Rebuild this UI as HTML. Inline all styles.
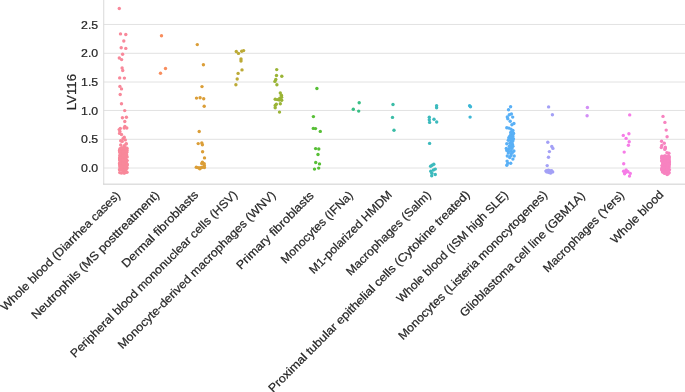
<!DOCTYPE html>
<html><head><meta charset="utf-8"><title>LV116</title>
<style>html,body{margin:0;padding:0;background:#fff}body{width:685px;height:392px;overflow:hidden;font-family:"Liberation Sans",sans-serif}</style></head>
<body>
<svg width="685" height="392" viewBox="0 0 685 392" style="display:block">
<rect width="685" height="392" fill="#fff"/>
<g stroke="#e2e2e2" stroke-width="1" fill="none">
<line x1="103.75" x2="685" y1="168.00" y2="168.00"/>
<line x1="103.75" x2="685" y1="139.30" y2="139.30"/>
<line x1="103.75" x2="685" y1="110.45" y2="110.45"/>
<line x1="103.75" x2="685" y1="82.00" y2="82.00"/>
<line x1="103.75" x2="685" y1="53.30" y2="53.30"/>
<line x1="103.75" x2="685" y1="24.45" y2="24.45"/>
</g>
<line x1="103.75" x2="103.75" y1="0" y2="184.65" stroke="#d9d9d9" stroke-width="1"/><line x1="103.25" x2="685" y1="184.15" y2="184.15" stroke="#cecece" stroke-width="1"/>
<g fill="#f8889a">
<circle cx="119.3" cy="8.5" r="1.7"/><circle cx="120.5" cy="33.9" r="1.7"/><circle cx="125.8" cy="34.5" r="1.7"/><circle cx="123.8" cy="41.0" r="1.7"/><circle cx="121.2" cy="47.8" r="1.7"/><circle cx="125.8" cy="48.4" r="1.7"/><circle cx="122.6" cy="54.2" r="1.7"/><circle cx="119.3" cy="58.0" r="1.7"/><circle cx="121.6" cy="59.6" r="1.7"/><circle cx="122.1" cy="67.9" r="1.7"/><circle cx="122.7" cy="70.5" r="1.7"/><circle cx="119.7" cy="77.9" r="1.7"/><circle cx="124.4" cy="78.1" r="1.7"/><circle cx="119.9" cy="86.4" r="1.7"/><circle cx="121.5" cy="88.9" r="1.7"/><circle cx="120.2" cy="94.5" r="1.7"/><circle cx="121.5" cy="103.8" r="1.7"/><circle cx="124.7" cy="110.6" r="1.7"/><circle cx="122.4" cy="117.8" r="1.7"/><circle cx="126.4" cy="117.3" r="1.7"/><circle cx="124.8" cy="121.5" r="1.7"/><circle cx="124.9" cy="126.5" r="1.7"/><circle cx="124.2" cy="128.0" r="1.7"/><circle cx="126.8" cy="128.0" r="1.7"/><circle cx="120.3" cy="128.4" r="1.7"/><circle cx="119.2" cy="129.6" r="1.7"/><circle cx="119.9" cy="131.5" r="1.7"/><circle cx="119.6" cy="133.4" r="1.7"/><circle cx="121.5" cy="134.5" r="1.7"/><circle cx="124.2" cy="137.2" r="1.7"/><circle cx="123" cy="138.7" r="1.7"/><circle cx="125.3" cy="139.9" r="1.7"/><circle cx="120.7" cy="140.7" r="1.7"/><circle cx="122.2" cy="141.4" r="1.7"/><circle cx="126.1" cy="144.1" r="1.7"/><circle cx="120.7" cy="144.9" r="1.7"/><circle cx="124.2" cy="145.6" r="1.7"/><circle cx="126.3" cy="143.6" r="1.7"/><circle cx="122.0" cy="151.0" r="1.7"/><circle cx="124.5" cy="148.9" r="1.7"/><circle cx="123.6" cy="156.6" r="1.7"/><circle cx="120.0" cy="160.3" r="1.7"/><circle cx="119.8" cy="158.4" r="1.7"/><circle cx="120.1" cy="149.4" r="1.7"/><circle cx="122.8" cy="168.7" r="1.7"/><circle cx="120.5" cy="152.8" r="1.7"/><circle cx="124.3" cy="171.8" r="1.7"/><circle cx="123.9" cy="157.4" r="1.7"/><circle cx="127.0" cy="148.2" r="1.7"/><circle cx="126.1" cy="154.6" r="1.7"/><circle cx="120.6" cy="150.1" r="1.7"/><circle cx="121.9" cy="168.4" r="1.7"/><circle cx="120.9" cy="162.2" r="1.7"/><circle cx="124.4" cy="156.8" r="1.7"/><circle cx="123.7" cy="148.6" r="1.7"/><circle cx="120.0" cy="152.4" r="1.7"/><circle cx="124.7" cy="158.2" r="1.7"/><circle cx="121.9" cy="162.3" r="1.7"/><circle cx="123.0" cy="154.9" r="1.7"/><circle cx="125.6" cy="165.3" r="1.7"/><circle cx="121.4" cy="162.0" r="1.7"/><circle cx="123.5" cy="169.9" r="1.7"/><circle cx="125.1" cy="154.5" r="1.7"/><circle cx="127.0" cy="150.1" r="1.7"/><circle cx="122.7" cy="166.8" r="1.7"/><circle cx="120.7" cy="159.8" r="1.7"/><circle cx="119.8" cy="164.5" r="1.7"/><circle cx="125.4" cy="162.0" r="1.7"/><circle cx="126.2" cy="155.2" r="1.7"/><circle cx="124.8" cy="162.6" r="1.7"/><circle cx="124.0" cy="159.0" r="1.7"/><circle cx="125.9" cy="171.8" r="1.7"/><circle cx="123.2" cy="164.4" r="1.7"/><circle cx="120.0" cy="165.4" r="1.7"/><circle cx="124.5" cy="173.0" r="1.7"/><circle cx="125.8" cy="154.5" r="1.7"/><circle cx="122.5" cy="164.5" r="1.7"/><circle cx="119.7" cy="159.1" r="1.7"/><circle cx="120.8" cy="150.1" r="1.7"/><circle cx="120.0" cy="167.1" r="1.7"/><circle cx="120.5" cy="153.5" r="1.7"/><circle cx="122.5" cy="169.8" r="1.7"/><circle cx="120.2" cy="158.8" r="1.7"/><circle cx="123.7" cy="170.1" r="1.7"/><circle cx="125.8" cy="169.6" r="1.7"/><circle cx="121.7" cy="157.9" r="1.7"/><circle cx="122.3" cy="170.2" r="1.7"/><circle cx="126.8" cy="151.0" r="1.7"/><circle cx="120.9" cy="153.1" r="1.7"/><circle cx="121.3" cy="159.7" r="1.7"/><circle cx="124.0" cy="153.9" r="1.7"/><circle cx="119.6" cy="158.0" r="1.7"/><circle cx="122.4" cy="161.8" r="1.7"/><circle cx="126.8" cy="165.1" r="1.7"/><circle cx="123.5" cy="163.2" r="1.7"/><circle cx="124.7" cy="148.4" r="1.7"/><circle cx="126.4" cy="167.4" r="1.7"/><circle cx="126.2" cy="167.9" r="1.7"/><circle cx="122.5" cy="157.5" r="1.7"/><circle cx="120.3" cy="163.6" r="1.7"/><circle cx="120.0" cy="148.8" r="1.7"/><circle cx="121.1" cy="151.3" r="1.7"/><circle cx="122.1" cy="148.4" r="1.7"/><circle cx="119.6" cy="151.0" r="1.7"/><circle cx="120.3" cy="156.5" r="1.7"/><circle cx="119.7" cy="169.9" r="1.7"/><circle cx="124.2" cy="150.9" r="1.7"/><circle cx="121.5" cy="156.1" r="1.7"/><circle cx="119.7" cy="172.6" r="1.7"/><circle cx="121.3" cy="173.0" r="1.7"/><circle cx="123.6" cy="172.9" r="1.7"/><circle cx="125.3" cy="172.4" r="1.7"/><circle cx="127.0" cy="172.2" r="1.7"/><circle cx="119.6" cy="169.5" r="1.7"/><circle cx="120.1" cy="166.8" r="1.7"/><circle cx="127.1" cy="168.0" r="1.7"/><circle cx="119.6" cy="163.5" r="1.7"/><circle cx="127.0" cy="163.9" r="1.7"/><circle cx="119.6" cy="150.5" r="1.7"/><circle cx="119.8" cy="155.5" r="1.7"/><circle cx="126.0" cy="156.6" r="1.7"/><circle cx="127.1" cy="160.6" r="1.7"/><circle cx="120.2" cy="152.3" r="1.7"/><circle cx="120.3" cy="159.8" r="1.7"/><circle cx="125.8" cy="156.1" r="1.7"/><circle cx="120.8" cy="162.1" r="1.7"/><circle cx="123.6" cy="160.5" r="1.7"/><circle cx="119.8" cy="162.7" r="1.7"/><circle cx="123.6" cy="164.0" r="1.7"/><circle cx="124.8" cy="169.4" r="1.7"/><circle cx="121.5" cy="157.0" r="1.7"/><circle cx="125.4" cy="156.3" r="1.7"/><circle cx="123.6" cy="161.0" r="1.7"/><circle cx="121.2" cy="159.4" r="1.7"/><circle cx="125.7" cy="153.7" r="1.7"/><circle cx="125.7" cy="169.2" r="1.7"/><circle cx="125.8" cy="157.5" r="1.7"/><circle cx="123.5" cy="158.2" r="1.7"/><circle cx="122.3" cy="154.6" r="1.7"/><circle cx="121.7" cy="159.8" r="1.7"/><circle cx="121.5" cy="158.7" r="1.7"/><circle cx="122.9" cy="153.6" r="1.7"/><circle cx="126.8" cy="152.2" r="1.7"/><circle cx="121.3" cy="155.9" r="1.7"/><circle cx="121.0" cy="161.4" r="1.7"/><circle cx="126.4" cy="160.7" r="1.7"/><circle cx="125.9" cy="165.9" r="1.7"/><circle cx="125.6" cy="150.6" r="1.7"/><circle cx="120.2" cy="159.5" r="1.7"/><circle cx="125.5" cy="152.1" r="1.7"/><circle cx="125.3" cy="148.3" r="1.7"/><circle cx="125.5" cy="155.1" r="1.7"/><circle cx="122.1" cy="159.0" r="1.7"/><circle cx="122.6" cy="163.1" r="1.7"/><circle cx="125.1" cy="147.7" r="1.7"/><circle cx="120.8" cy="166.2" r="1.7"/><circle cx="126.4" cy="160.7" r="1.7"/><circle cx="125.7" cy="160.8" r="1.7"/><circle cx="127.0" cy="164.7" r="1.7"/><circle cx="124.5" cy="166.7" r="1.7"/><circle cx="120.5" cy="154.4" r="1.7"/><circle cx="119.7" cy="164.1" r="1.7"/><circle cx="123.6" cy="166.3" r="1.7"/><circle cx="126.6" cy="157.1" r="1.7"/><circle cx="125.8" cy="148.3" r="1.7"/><circle cx="121.2" cy="163.0" r="1.7"/><circle cx="121.4" cy="158.4" r="1.7"/><circle cx="124.0" cy="163.1" r="1.7"/><circle cx="120.5" cy="158.2" r="1.7"/><circle cx="126.5" cy="164.2" r="1.7"/><circle cx="124.0" cy="154.8" r="1.7"/><circle cx="126.4" cy="163.3" r="1.7"/><circle cx="123.4" cy="147.7" r="1.7"/><circle cx="123.6" cy="164.4" r="1.7"/><circle cx="122.9" cy="157.4" r="1.7"/><circle cx="120.9" cy="158.3" r="1.7"/><circle cx="120.9" cy="168.4" r="1.7"/><circle cx="123.1" cy="158.7" r="1.7"/><circle cx="122.0" cy="157.4" r="1.7"/><circle cx="123.5" cy="151.6" r="1.7"/><circle cx="120.4" cy="149.4" r="1.7"/><circle cx="123.8" cy="155.2" r="1.7"/><circle cx="125.4" cy="158.5" r="1.7"/><circle cx="123.4" cy="162.9" r="1.7"/><circle cx="126.5" cy="149.9" r="1.7"/><circle cx="122.9" cy="155.0" r="1.7"/><circle cx="123.4" cy="153.5" r="1.7"/><circle cx="124.8" cy="154.3" r="1.7"/><circle cx="123.2" cy="152.0" r="1.7"/><circle cx="126.7" cy="160.5" r="1.7"/><circle cx="126.7" cy="155.0" r="1.7"/><circle cx="121.5" cy="147.8" r="1.7"/><circle cx="125.9" cy="153.7" r="1.7"/><circle cx="122.9" cy="160.3" r="1.7"/><circle cx="120.1" cy="160.6" r="1.7"/><circle cx="124.6" cy="158.6" r="1.7"/><circle cx="125.5" cy="160.6" r="1.7"/><circle cx="125.0" cy="161.0" r="1.7"/><circle cx="124.6" cy="156.6" r="1.7"/><circle cx="126.9" cy="165.6" r="1.7"/><circle cx="121.2" cy="167.4" r="1.7"/><circle cx="123.3" cy="163.8" r="1.7"/><circle cx="127.1" cy="156.9" r="1.7"/><circle cx="122.8" cy="160.1" r="1.7"/><circle cx="123.5" cy="155.7" r="1.7"/>
</g>
<g fill="#f88d5d">
<circle cx="161.5" cy="35.7" r="1.7"/><circle cx="165.5" cy="68.5" r="1.7"/><circle cx="160.5" cy="73.3" r="1.7"/>
</g>
<g fill="#db9e37">
<circle cx="197.3" cy="44.6" r="1.7"/><circle cx="203.4" cy="64.8" r="1.7"/><circle cx="202.0" cy="86.6" r="1.7"/><circle cx="196.5" cy="98.1" r="1.7"/><circle cx="200.1" cy="97.8" r="1.7"/><circle cx="203.7" cy="98.8" r="1.7"/><circle cx="204.2" cy="106.3" r="1.7"/><circle cx="199.2" cy="131.5" r="1.7"/><circle cx="198.2" cy="143.6" r="1.7"/><circle cx="201.8" cy="142.9" r="1.7"/><circle cx="202.4" cy="144.8" r="1.7"/><circle cx="202.6" cy="151.7" r="1.7"/><circle cx="204.5" cy="157.9" r="1.7"/><circle cx="202.4" cy="162.2" r="1.7"/><circle cx="201.7" cy="163.6" r="1.7"/><circle cx="204.2" cy="163.8" r="1.7"/><circle cx="204.4" cy="165.7" r="1.7"/><circle cx="196.3" cy="167.2" r="1.7"/><circle cx="197.9" cy="167.6" r="1.7"/><circle cx="199.4" cy="168" r="1.7"/><circle cx="200.9" cy="167.7" r="1.7"/><circle cx="202.4" cy="167.2" r="1.7"/><circle cx="204.4" cy="167.6" r="1.7"/><circle cx="199.8" cy="168.7" r="1.7"/>
</g>
<g fill="#bcaa36">
<circle cx="236.3" cy="51.5" r="1.7"/><circle cx="238.5" cy="53.4" r="1.7"/><circle cx="241.7" cy="51.2" r="1.7"/><circle cx="243.6" cy="50.6" r="1.7"/><circle cx="241.0" cy="58.9" r="1.7"/><circle cx="241.0" cy="61.0" r="1.7"/><circle cx="242.0" cy="69.9" r="1.7"/><circle cx="238.1" cy="73.4" r="1.7"/><circle cx="237.2" cy="79.0" r="1.7"/><circle cx="235.9" cy="84.8" r="1.7"/>
</g>
<g fill="#9ab436">
<circle cx="276.7" cy="69.6" r="1.7"/><circle cx="276.5" cy="75.5" r="1.7"/><circle cx="281.8" cy="76.2" r="1.7"/><circle cx="275.8" cy="79.5" r="1.7"/><circle cx="274.9" cy="81.4" r="1.7"/><circle cx="276.9" cy="84.8" r="1.7"/><circle cx="280.3" cy="93.0" r="1.7"/><circle cx="281.4" cy="95.2" r="1.7"/><circle cx="281.6" cy="97.2" r="1.7"/><circle cx="279.8" cy="98.3" r="1.7"/><circle cx="275.2" cy="99.3" r="1.7"/><circle cx="277.3" cy="99.6" r="1.7"/><circle cx="279.3" cy="100.1" r="1.7"/><circle cx="281.7" cy="100.3" r="1.7"/><circle cx="280.3" cy="103.7" r="1.7"/><circle cx="276.3" cy="104.2" r="1.7"/><circle cx="275.2" cy="105.4" r="1.7"/><circle cx="275.2" cy="107.7" r="1.7"/><circle cx="279.5" cy="112.1" r="1.7"/>
</g>
<g fill="#57bf36">
<circle cx="316.9" cy="88.5" r="1.7"/><circle cx="313.4" cy="116.6" r="1.7"/><circle cx="313.3" cy="128.4" r="1.7"/><circle cx="315.5" cy="128.6" r="1.7"/><circle cx="320.3" cy="131.4" r="1.7"/><circle cx="315.6" cy="148.6" r="1.7"/><circle cx="318.8" cy="149.0" r="1.7"/><circle cx="318.0" cy="154.5" r="1.7"/><circle cx="315.7" cy="162.5" r="1.7"/><circle cx="319.5" cy="163.9" r="1.7"/><circle cx="318.7" cy="168.1" r="1.7"/><circle cx="314.5" cy="169.1" r="1.7"/>
</g>
<g fill="#38bf85">
<circle cx="359.2" cy="102.7" r="1.7"/><circle cx="353.3" cy="109.3" r="1.7"/><circle cx="358.7" cy="111.1" r="1.7"/>
</g>
<g fill="#3abca6">
<circle cx="393.0" cy="104.5" r="1.7"/><circle cx="392.5" cy="117.4" r="1.7"/><circle cx="394.0" cy="130.3" r="1.7"/>
</g>
<g fill="#3cbabd">
<circle cx="436.6" cy="105.8" r="1.7"/><circle cx="436.6" cy="107.7" r="1.7"/><circle cx="429.3" cy="117.3" r="1.7"/><circle cx="429.3" cy="119.8" r="1.7"/><circle cx="429.6" cy="122.4" r="1.7"/><circle cx="434.0" cy="119.2" r="1.7"/><circle cx="436.7" cy="122.0" r="1.7"/><circle cx="429.6" cy="143.4" r="1.7"/><circle cx="433.8" cy="164.3" r="1.7"/><circle cx="432.1" cy="165.3" r="1.7"/><circle cx="430.6" cy="166.2" r="1.7"/><circle cx="435.3" cy="169.1" r="1.7"/><circle cx="433.4" cy="170.0" r="1.7"/><circle cx="430.8" cy="171.3" r="1.7"/><circle cx="431.9" cy="173.2" r="1.7"/><circle cx="435.3" cy="174.5" r="1.7"/><circle cx="431.7" cy="175.8" r="1.7"/>
</g>
<g fill="#3db7d6">
<circle cx="469.6" cy="105.7" r="1.7"/><circle cx="470.5" cy="106.8" r="1.7"/><circle cx="470.1" cy="117.1" r="1.7"/>
</g>
<g fill="#59b0f6">
<circle cx="510.6" cy="106.7" r="1.7"/><circle cx="508.5" cy="109.7" r="1.7"/><circle cx="511.4" cy="114.0" r="1.7"/><circle cx="509.3" cy="114.8" r="1.7"/><circle cx="507.3" cy="116.9" r="1.7"/><circle cx="512.7" cy="117.1" r="1.7"/><circle cx="507.8" cy="118.7" r="1.7"/><circle cx="510.2" cy="121.3" r="1.7"/><circle cx="513.9" cy="123.5" r="1.7"/><circle cx="511.9" cy="124.7" r="1.7"/><circle cx="506.8" cy="127.8" r="1.7"/><circle cx="508.8" cy="128.1" r="1.7"/><circle cx="510.9" cy="129.1" r="1.7"/><circle cx="512.9" cy="130.4" r="1.7"/><circle cx="510.9" cy="132.2" r="1.7"/><circle cx="513.4" cy="133.2" r="1.7"/><circle cx="511.4" cy="134.2" r="1.7"/><circle cx="509.9" cy="136.3" r="1.7"/><circle cx="512.4" cy="136.3" r="1.7"/><circle cx="512.4" cy="131" r="1.7"/><circle cx="510.9" cy="133.1" r="1.7"/><circle cx="513.4" cy="133.6" r="1.7"/><circle cx="510.4" cy="135.6" r="1.7"/><circle cx="512.9" cy="136.1" r="1.7"/><circle cx="508.8" cy="137.7" r="1.7"/><circle cx="511.4" cy="138.2" r="1.7"/><circle cx="513.4" cy="138.7" r="1.7"/><circle cx="508.3" cy="140.2" r="1.7"/><circle cx="510.9" cy="140.7" r="1.7"/><circle cx="512.9" cy="140.7" r="1.7"/><circle cx="506.8" cy="143.8" r="1.7"/><circle cx="509.9" cy="143.3" r="1.7"/><circle cx="512.4" cy="144.3" r="1.7"/><circle cx="510.9" cy="145.8" r="1.7"/><circle cx="512.9" cy="146.3" r="1.7"/><circle cx="506.3" cy="148.4" r="1.7"/><circle cx="508.8" cy="148.9" r="1.7"/><circle cx="511.9" cy="148.4" r="1.7"/><circle cx="506.8" cy="150.4" r="1.7"/><circle cx="510.9" cy="150.9" r="1.7"/><circle cx="513.9" cy="150.9" r="1.7"/><circle cx="508.3" cy="153" r="1.7"/><circle cx="511.4" cy="153.5" r="1.7"/><circle cx="507.3" cy="156" r="1.7"/><circle cx="510.9" cy="155.5" r="1.7"/><circle cx="514.2" cy="156" r="1.7"/><circle cx="512.9" cy="159.1" r="1.7"/><circle cx="507.1" cy="161.1" r="1.7"/><circle cx="507.8" cy="163.2" r="1.7"/><circle cx="510.7" cy="163.2" r="1.7"/><circle cx="506.8" cy="165.2" r="1.7"/><circle cx="509.5" cy="139" r="1.7"/><circle cx="511.8" cy="142.2" r="1.7"/><circle cx="509.3" cy="146.2" r="1.7"/><circle cx="508.5" cy="151.5" r="1.7"/><circle cx="512.6" cy="152.3" r="1.7"/><circle cx="509.7" cy="157.5" r="1.7"/><circle cx="511.8" cy="146.9" r="1.7"/><circle cx="510.2" cy="148.1" r="1.7"/>
</g>
<g fill="#a3a0f6">
<circle cx="548.6" cy="106.9" r="1.7"/><circle cx="552.4" cy="114.8" r="1.7"/><circle cx="547.8" cy="142.3" r="1.7"/><circle cx="551.8" cy="146.5" r="1.7"/><circle cx="552.9" cy="148.4" r="1.7"/><circle cx="549.4" cy="151.6" r="1.7"/><circle cx="548.5" cy="157.3" r="1.7"/><circle cx="547.2" cy="165.6" r="1.7"/><circle cx="545.9" cy="171.1" r="1.7"/><circle cx="547.8" cy="171.9" r="1.7"/><circle cx="549.7" cy="170.7" r="1.7"/><circle cx="551" cy="172.6" r="1.7"/><circle cx="552.7" cy="171.9" r="1.7"/><circle cx="549.1" cy="172.6" r="1.7"/><circle cx="546.8" cy="171.9" r="1.7"/><circle cx="548.4" cy="170.3" r="1.7"/><circle cx="551.6" cy="170.6" r="1.7"/><circle cx="550.6" cy="173.1" r="1.7"/><circle cx="546.6" cy="170.6" r="1.7"/>
</g>
<g fill="#d28ef6">
<circle cx="587.4" cy="107.5" r="1.7"/><circle cx="587.1" cy="115.7" r="1.7"/>
</g>
<g fill="#f67ce7">
<circle cx="629.7" cy="114.9" r="1.7"/><circle cx="628.9" cy="133.7" r="1.7"/><circle cx="623.3" cy="135.4" r="1.7"/><circle cx="626.1" cy="138.4" r="1.7"/><circle cx="629.2" cy="141.8" r="1.7"/><circle cx="628.4" cy="145.3" r="1.7"/><circle cx="624.2" cy="152.1" r="1.7"/><circle cx="623.7" cy="163.8" r="1.7"/><circle cx="626.1" cy="169.9" r="1.7"/><circle cx="623.6" cy="171.2" r="1.7"/><circle cx="625.5" cy="172.5" r="1.7"/><circle cx="628" cy="171.8" r="1.7"/><circle cx="624.6" cy="173.8" r="1.7"/><circle cx="630.3" cy="173.4" r="1.7"/><circle cx="629.5" cy="176.1" r="1.7"/><circle cx="626.7" cy="171.2" r="1.7"/>
</g>
<g fill="#f783c0">
<circle cx="663.0" cy="116.4" r="1.7"/><circle cx="664.9" cy="122.4" r="1.7"/><circle cx="666.2" cy="130.1" r="1.7"/><circle cx="667.1" cy="136.8" r="1.7"/><circle cx="661.6" cy="141.2" r="1.7"/><circle cx="664.3" cy="143.3" r="1.7"/><circle cx="661.8" cy="145.5" r="1.7"/><circle cx="665.3" cy="147.3" r="1.7"/><circle cx="661.3" cy="147.5" r="1.7"/><circle cx="665.3" cy="148.2" r="1.7"/><circle cx="664.8" cy="149.4" r="1.7"/><circle cx="666.9" cy="152.8" r="1.7"/><circle cx="668.9" cy="153.3" r="1.7"/><circle cx="664.3" cy="159.4" r="1.7"/><circle cx="664.2" cy="168.5" r="1.7"/><circle cx="661.9" cy="165.6" r="1.7"/><circle cx="665.1" cy="156.3" r="1.7"/><circle cx="664.3" cy="166.8" r="1.7"/><circle cx="665.7" cy="157.1" r="1.7"/><circle cx="669.4" cy="169.6" r="1.7"/><circle cx="669.3" cy="157.8" r="1.7"/><circle cx="663.8" cy="156.7" r="1.7"/><circle cx="667.8" cy="160.7" r="1.7"/><circle cx="662.7" cy="163.3" r="1.7"/><circle cx="668.8" cy="170.2" r="1.7"/><circle cx="663.7" cy="158.6" r="1.7"/><circle cx="668.9" cy="165.9" r="1.7"/><circle cx="667.2" cy="157.5" r="1.7"/><circle cx="662.1" cy="167.9" r="1.7"/><circle cx="665.0" cy="157.3" r="1.7"/><circle cx="669.0" cy="167.0" r="1.7"/><circle cx="668.0" cy="157.4" r="1.7"/><circle cx="668.4" cy="157.2" r="1.7"/><circle cx="668.4" cy="163.9" r="1.7"/><circle cx="664.3" cy="165.6" r="1.7"/><circle cx="668.9" cy="160.6" r="1.7"/><circle cx="662.7" cy="165.1" r="1.7"/><circle cx="663.6" cy="157.9" r="1.7"/><circle cx="663.0" cy="156.9" r="1.7"/><circle cx="663.3" cy="161.4" r="1.7"/><circle cx="664.1" cy="169.1" r="1.7"/><circle cx="664.0" cy="164.7" r="1.7"/><circle cx="663.1" cy="162.0" r="1.7"/><circle cx="661.8" cy="160.3" r="1.7"/><circle cx="661.8" cy="168.7" r="1.7"/><circle cx="666.0" cy="159.3" r="1.7"/><circle cx="665.4" cy="172.2" r="1.7"/><circle cx="662.5" cy="170.2" r="1.7"/><circle cx="665.1" cy="164.6" r="1.7"/><circle cx="668.2" cy="162.8" r="1.7"/><circle cx="665.7" cy="167.9" r="1.7"/><circle cx="669.4" cy="161.9" r="1.7"/><circle cx="668.2" cy="168.2" r="1.7"/><circle cx="666.7" cy="163.0" r="1.7"/><circle cx="664.4" cy="156.9" r="1.7"/><circle cx="662.7" cy="157.2" r="1.7"/><circle cx="667.5" cy="160.4" r="1.7"/><circle cx="663.0" cy="157.5" r="1.7"/><circle cx="668.3" cy="171.1" r="1.7"/><circle cx="666.9" cy="160.9" r="1.7"/><circle cx="663.6" cy="161.1" r="1.7"/><circle cx="665.3" cy="158.7" r="1.7"/><circle cx="665.2" cy="160.6" r="1.7"/><circle cx="669.2" cy="172.8" r="1.7"/><circle cx="666.0" cy="160.2" r="1.7"/><circle cx="669.2" cy="161.4" r="1.7"/><circle cx="664.5" cy="156.0" r="1.7"/><circle cx="664.7" cy="164.2" r="1.7"/><circle cx="665.6" cy="159.5" r="1.7"/><circle cx="665.6" cy="156.1" r="1.7"/><circle cx="663.8" cy="157.6" r="1.7"/><circle cx="664.8" cy="156.7" r="1.7"/><circle cx="661.9" cy="161.3" r="1.7"/><circle cx="663.5" cy="166.1" r="1.7"/><circle cx="665.8" cy="169.0" r="1.7"/><circle cx="666.8" cy="168.4" r="1.7"/><circle cx="668.6" cy="162.7" r="1.7"/><circle cx="664.2" cy="173.0" r="1.7"/><circle cx="662.9" cy="168.5" r="1.7"/><circle cx="666.7" cy="156.8" r="1.7"/><circle cx="668.2" cy="171.4" r="1.7"/><circle cx="666.6" cy="168.7" r="1.7"/><circle cx="668.0" cy="158.4" r="1.7"/><circle cx="665.8" cy="164.7" r="1.7"/><circle cx="668.2" cy="169.9" r="1.7"/><circle cx="668.1" cy="166.1" r="1.7"/><circle cx="668.7" cy="167.8" r="1.7"/><circle cx="667.1" cy="160.0" r="1.7"/><circle cx="661.9" cy="158.3" r="1.7"/><circle cx="664.5" cy="157.8" r="1.7"/><circle cx="668.2" cy="165.7" r="1.7"/><circle cx="666.6" cy="166.8" r="1.7"/><circle cx="667.0" cy="164.5" r="1.7"/><circle cx="661.7" cy="169.8" r="1.7"/><circle cx="667.5" cy="164.7" r="1.7"/><circle cx="665.9" cy="167.4" r="1.7"/><circle cx="662.2" cy="168.7" r="1.7"/><circle cx="663.7" cy="157.3" r="1.7"/><circle cx="663.8" cy="168.6" r="1.7"/><circle cx="663.3" cy="168.8" r="1.7"/><circle cx="669.3" cy="164.5" r="1.7"/><circle cx="664.7" cy="164.3" r="1.7"/><circle cx="667.0" cy="169.3" r="1.7"/><circle cx="666.5" cy="167.1" r="1.7"/><circle cx="662.3" cy="158.6" r="1.7"/><circle cx="663.7" cy="168.9" r="1.7"/><circle cx="664.1" cy="165.8" r="1.7"/><circle cx="661.8" cy="157.0" r="1.7"/><circle cx="663.8" cy="167.6" r="1.7"/><circle cx="667.1" cy="167.7" r="1.7"/><circle cx="664.0" cy="164.9" r="1.7"/><circle cx="665.3" cy="164.1" r="1.7"/><circle cx="662.6" cy="171.5" r="1.7"/><circle cx="669.0" cy="156.3" r="1.7"/><circle cx="665.3" cy="170.2" r="1.7"/><circle cx="669.3" cy="163.8" r="1.7"/><circle cx="663.8" cy="159.6" r="1.7"/><circle cx="669.1" cy="159.6" r="1.7"/><circle cx="666.2" cy="158.5" r="1.7"/><circle cx="665.8" cy="172.5" r="1.7"/><circle cx="662.7" cy="170.2" r="1.7"/><circle cx="665.7" cy="171.3" r="1.7"/><circle cx="667.2" cy="160.0" r="1.7"/><circle cx="668.7" cy="164.4" r="1.7"/><circle cx="661.9" cy="156.1" r="1.7"/><circle cx="665.5" cy="163.8" r="1.7"/><circle cx="664.1" cy="158.4" r="1.7"/><circle cx="664.4" cy="161.5" r="1.7"/><circle cx="668.3" cy="156.0" r="1.7"/><circle cx="667.6" cy="170.5" r="1.7"/><circle cx="662.6" cy="172.0" r="1.7"/><circle cx="667.3" cy="171.6" r="1.7"/><circle cx="664.0" cy="162.4" r="1.7"/><circle cx="664.8" cy="173.3" r="1.7"/><circle cx="666.3" cy="162.2" r="1.7"/><circle cx="665.0" cy="160.8" r="1.7"/><circle cx="662.1" cy="157.8" r="1.7"/><circle cx="668.2" cy="160.9" r="1.7"/><circle cx="668.0" cy="173.9" r="1.7"/><circle cx="667.1" cy="174.5" r="1.7"/>
</g>
<g font-family="'Liberation Sans', sans-serif" fill="#262626" stroke="#262626" stroke-width="0.22" opacity="0.999">
<text x="81.06" y="172.10" font-size="11.8" textLength="17.14" lengthAdjust="spacingAndGlyphs">0.0</text>
<text x="81.06" y="143.40" font-size="11.8" textLength="17.14" lengthAdjust="spacingAndGlyphs">0.5</text>
<text x="81.06" y="114.55" font-size="11.8" textLength="17.14" lengthAdjust="spacingAndGlyphs">1.0</text>
<text x="81.06" y="86.10" font-size="11.8" textLength="17.14" lengthAdjust="spacingAndGlyphs">1.5</text>
<text x="81.06" y="57.40" font-size="11.8" textLength="17.14" lengthAdjust="spacingAndGlyphs">2.0</text>
<text x="81.06" y="28.55" font-size="11.8" textLength="17.14" lengthAdjust="spacingAndGlyphs">2.5</text>
<text transform="translate(76.0,110.34) rotate(-90)" font-size="12.7" textLength="36.48" lengthAdjust="spacingAndGlyphs">LV116</text>
<text transform="translate(5.49,311.55) rotate(-45)" font-size="11.7" textLength="163.36" lengthAdjust="spacingAndGlyphs">Whole blood (Diarrhea cases)</text>
<text transform="translate(35.97,319.82) rotate(-45)" font-size="11.7" textLength="175.36" lengthAdjust="spacingAndGlyphs">Neutrophils (MS posttreatment)</text>
<text transform="translate(126.36,268.18) rotate(-45)" font-size="11.7" textLength="102.71" lengthAdjust="spacingAndGlyphs">Dermal fibroblasts</text>
<text transform="translate(75.10,358.19) rotate(-45)" font-size="11.7" textLength="230.48" lengthAdjust="spacingAndGlyphs">Peripheral blood mononuclear cells (HSV)</text>
<text transform="translate(122.57,349.48) rotate(-45)" font-size="11.7" textLength="217.45" lengthAdjust="spacingAndGlyphs">Monocyte-derived macrophages (WNV)</text>
<text transform="translate(240.89,269.90) rotate(-45)" font-size="11.7" textLength="103.96" lengthAdjust="spacingAndGlyphs">Primary fibroblasts</text>
<text transform="translate(285.42,264.13) rotate(-45)" font-size="11.7" textLength="96.33" lengthAdjust="spacingAndGlyphs">Monocytes (IFNa)</text>
<text transform="translate(313.86,274.43) rotate(-45)" font-size="11.7" textLength="111.63" lengthAdjust="spacingAndGlyphs">M1-polarized HMDM</text>
<text transform="translate(350.81,276.24) rotate(-45)" font-size="11.7" textLength="114.20" lengthAdjust="spacingAndGlyphs">Macrophages (Salm)</text>
<text transform="translate(272.91,392.88) rotate(-45)" font-size="11.7" textLength="279.36" lengthAdjust="spacingAndGlyphs">Proximal tubular epithelial cells (Cytokine treated)</text>
<text transform="translate(401.17,303.37) rotate(-45)" font-size="11.7" textLength="152.30" lengthAdjust="spacingAndGlyphs">Whole blood (ISM high SLE)</text>
<text transform="translate(402.91,340.38) rotate(-45)" font-size="11.7" textLength="205.08" lengthAdjust="spacingAndGlyphs">Monocytes (Listeria monocytogenes)</text>
<text transform="translate(464.46,317.58) rotate(-45)" font-size="11.7" textLength="171.36" lengthAdjust="spacingAndGlyphs">Glioblastoma cell line (GBM1A)</text>
<text transform="translate(547.82,272.97) rotate(-45)" font-size="11.7" textLength="108.94" lengthAdjust="spacingAndGlyphs">Macrophages (Yers)</text>
<text transform="translate(615.31,244.23) rotate(-45)" font-size="11.7" textLength="69.16" lengthAdjust="spacingAndGlyphs">Whole blood</text>
</g>
</svg>
</body></html>
